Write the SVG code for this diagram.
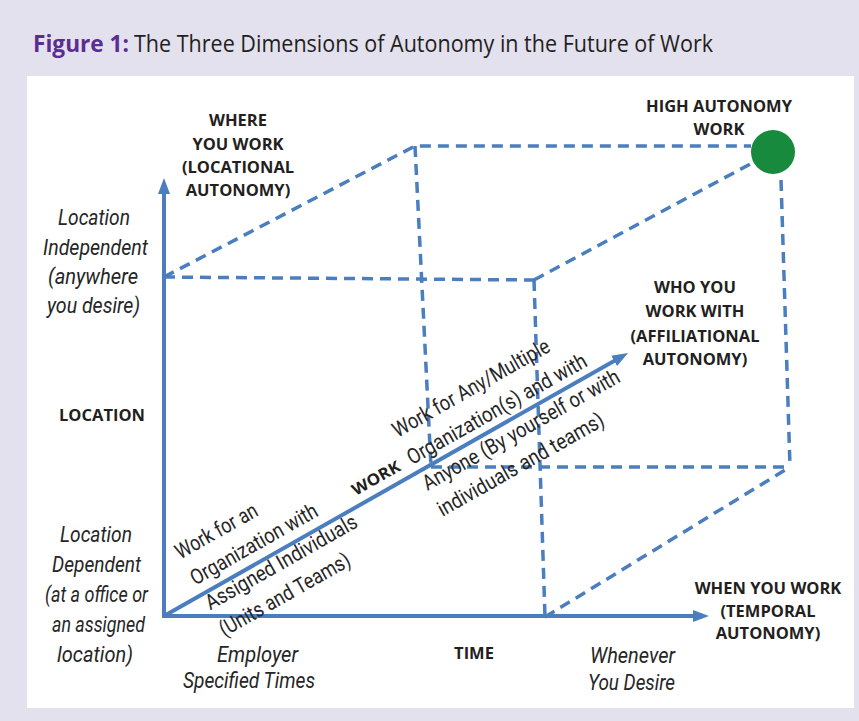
<svg xmlns="http://www.w3.org/2000/svg" width="859" height="721" viewBox="0 0 859 721">
  <defs>
    <style>
      .cap { font-family: "Open Sans", "Liberation Sans", sans-serif; font-weight: 700; font-size: 16.5px; fill: #231f20; text-anchor: middle; }
      .it { font-family: "Roboto", "Liberation Sans", sans-serif; font-style: italic; font-size: 22px; fill: #262626; }
      .dg { font-family: "Roboto", "Liberation Sans", sans-serif; font-size: 21.5px; fill: #262626; }
      .axis { fill: none; stroke: #4a7ebf; stroke-width: 4; }
      .dash { fill: none; stroke: #4a7ebf; stroke-width: 3.5; stroke-dasharray: 11 7; }
    </style>
    <marker id="arrow" viewBox="0 0 16 12" refX="4" refY="6" markerWidth="16" markerHeight="12" markerUnits="userSpaceOnUse" orient="auto-start-reverse">
      <path d="M0,0 L16,6 L0,12 Z" fill="#4a7ebf"/>
    </marker>
  </defs>

  <!-- page background and panel -->
  <rect x="0" y="0" width="859" height="721" fill="#e4e1ef"/>
  <rect x="27" y="76" width="827" height="632" fill="#ffffff"/>

  <!-- title -->
  <g id="title">
    <text x="33" y="52" font-family="'Open Sans', 'Liberation Sans', sans-serif" font-weight="700" font-size="24" fill="#5a2d91" textLength="96" lengthAdjust="spacingAndGlyphs">Figure 1:</text>
    <text x="134" y="52" font-family="'Open Sans', 'Liberation Sans', sans-serif" font-size="24" fill="#231f20" textLength="579" lengthAdjust="spacingAndGlyphs">The Three Dimensions of Autonomy in the Future of Work</text>
  </g>

  <!-- cube edges and axes -->
  <g id="connectors">
    <path class="dash" d="M164,277 L415,146 L751,146"/>
    <path class="dash" d="M164,277 L534,280"/>
    <path class="dash" d="M415,146 L431,467"/>
    <path class="dash" d="M534,280 L754,162"/>
    <path class="dash" d="M534,280 L545,617"/>
    <path class="dash" d="M781,180 L790,467"/>
    <path class="dash" d="M431,467 L790,467"/>
    <path class="dash" d="M545,617 L790,467"/>
    <path class="axis" d="M164,190 L164,616 L697,616" marker-start="url(#arrow)" marker-end="url(#arrow)"/>
    <path class="axis" d="M164,616 L617.6,358.9" marker-end="url(#arrow)"/>
  </g>

  <!-- corner point -->
  <g id="high-autonomy">
    <circle cx="773" cy="152" r="22" fill="#178a3e"/>
    <text class="cap" x="719" y="112">HIGH AUTONOMY</text>
    <text class="cap" x="719" y="135">WORK</text>
  </g>

  <!-- vertical axis labels -->
  <g id="where">
    <text class="cap" x="238" y="126">WHERE</text>
    <text class="cap" x="238" y="150">YOU WORK</text>
    <text class="cap" x="238" y="173">(LOCATIONAL</text>
    <text class="cap" x="238" y="196">AUTONOMY)</text>
  </g>
  <g id="location">
    <text class="cap" x="102" y="421">LOCATION</text>
  </g>
  <g id="location-independent">
    <text class="it" x="58" y="225" textLength="72" lengthAdjust="spacingAndGlyphs">Location</text>
    <text class="it" x="43" y="254.5" textLength="105" lengthAdjust="spacingAndGlyphs">Independent</text>
    <text class="it" x="48" y="284" textLength="90" lengthAdjust="spacingAndGlyphs">(anywhere</text>
    <text class="it" x="47" y="313" textLength="93" lengthAdjust="spacingAndGlyphs">you desire)</text>
  </g>
  <g id="location-dependent">
    <text class="it" x="60" y="542" textLength="72" lengthAdjust="spacingAndGlyphs">Location</text>
    <text class="it" x="52" y="572" textLength="89" lengthAdjust="spacingAndGlyphs">Dependent</text>
    <text class="it" x="45" y="602" textLength="103" lengthAdjust="spacingAndGlyphs">(at a office or</text>
    <text class="it" x="52" y="632" textLength="93" lengthAdjust="spacingAndGlyphs">an assigned</text>
    <text class="it" x="57" y="662" textLength="76" lengthAdjust="spacingAndGlyphs">location)</text>
  </g>

  <!-- horizontal axis labels -->
  <g id="when">
    <text class="cap" x="768" y="594">WHEN YOU WORK</text>
    <text class="cap" x="768" y="617">(TEMPORAL</text>
    <text class="cap" x="768" y="639">AUTONOMY)</text>
  </g>
  <g id="time">
    <text class="cap" x="474" y="659">TIME</text>
  </g>
  <g id="employer-times">
    <text class="it" x="217" y="662" textLength="81" lengthAdjust="spacingAndGlyphs">Employer</text>
    <text class="it" x="183" y="688" textLength="132" lengthAdjust="spacingAndGlyphs">Specified Times</text>
  </g>
  <g id="whenever">
    <text class="it" x="590" y="663" textLength="85" lengthAdjust="spacingAndGlyphs">Whenever</text>
    <text class="it" x="588" y="690" textLength="87" lengthAdjust="spacingAndGlyphs">You Desire</text>
  </g>

  <!-- diagonal axis labels -->
  <g id="who">
    <text class="cap" x="695" y="293">WHO YOU</text>
    <text class="cap" x="695" y="317">WORK WITH</text>
    <text class="cap" x="695" y="342">(AFFILIATIONAL</text>
    <text class="cap" x="695" y="365">AUTONOMY)</text>
  </g>
  <g id="work-axis" transform="translate(164,616) rotate(-29.5)">
    <text class="dg" x="42" y="-41" textLength="91" lengthAdjust="spacingAndGlyphs">Work for an</text>
    <text class="dg" x="42" y="-11" textLength="143" lengthAdjust="spacingAndGlyphs">Organization with</text>
    <text class="dg" x="43" y="18" textLength="171" lengthAdjust="spacingAndGlyphs">Assigned Individuals</text>
    <text class="dg" x="42" y="48" textLength="147" lengthAdjust="spacingAndGlyphs">(Units and Teams)</text>
    <text x="226" y="-10" font-family="'Open Sans', 'Liberation Sans', sans-serif" font-weight="700" font-size="16" fill="#231f20" textLength="53" lengthAdjust="spacingAndGlyphs">WORK</text>
    <text class="dg" x="291" y="-40" textLength="177" lengthAdjust="spacingAndGlyphs">Work for Any/Multiple</text>
    <text class="dg" x="290" y="-9" textLength="203" lengthAdjust="spacingAndGlyphs">Organization(s) and with</text>
    <text class="dg" x="291" y="21" textLength="223" lengthAdjust="spacingAndGlyphs">Anyone (By yourself or with</text>
    <text class="dg" x="291" y="51" textLength="188" lengthAdjust="spacingAndGlyphs">individuals and teams)</text>
  </g>
</svg>
